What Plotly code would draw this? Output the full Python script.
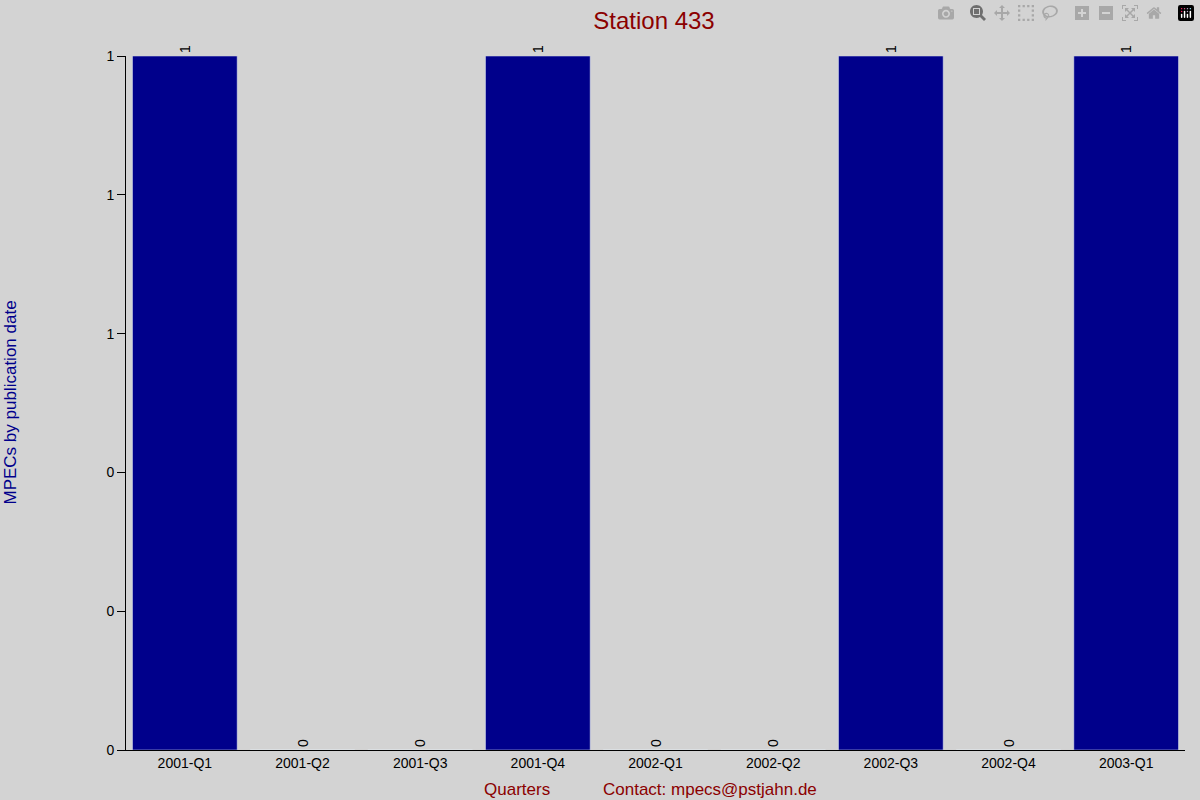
import plotly.graph_objects as go

quarters = ["2001-Q1","2001-Q2","2001-Q3","2001-Q4","2002-Q1","2002-Q2","2002-Q3","2002-Q4","2003-Q1"]
counts = [1,0,0,1,0,0,1,0,1]
ytick_vals = [0,0.2,0.4,0.6,0.8,1.0]

fig = go.Figure(go.Bar(
    x=quarters, y=counts, marker_color="#00008B", width=0.89,
    text=[str(c) for c in counts], textposition="outside", textangle=-90,
    textfont=dict(color="black", size=14), cliponaxis=False,
))
fig.update_layout(
    width=1200, height=800, paper_bgcolor="#D3D3D3", plot_bgcolor="#D3D3D3",
    font=dict(family="Liberation Sans, Arial", size=14, color="black"),
    margin=dict(l=126, r=15, t=56, b=50), showlegend=False,
    title=dict(text="Station 433", x=0.545, xanchor="center", y=0.985, yanchor="top",
               font=dict(size=24, color="#8B0000")),
)
fig.update_xaxes(showline=True, linecolor="black", ticks="", showgrid=False,
                 tickfont=dict(size=14))
fig.update_yaxes(range=[0,1], tickvals=ytick_vals, tickformat=".0f", showgrid=False,
                 zeroline=False, showline=True, linecolor="black", ticks="outside",
                 ticklen=8, tickcolor="black", tickfont=dict(size=14))
fig.add_annotation(text="MPECs by publication date", xref="paper", yref="paper",
                   x=-0.11, y=0.5, textangle=-90, showarrow=False,
                   font=dict(size=17, color="#00008B"), xanchor="center", yanchor="middle")
fig.add_annotation(text="Quarters", xref="paper", yref="paper", x=0.369, y=-0.04,
                   showarrow=False, font=dict(size=17, color="#8B0000"), yanchor="top")
fig.add_annotation(text="Contact: mpecs@pstjahn.de", xref="paper", yref="paper", x=0.551, y=-0.04,
                   showarrow=False, font=dict(size=17, color="#8B0000"), yanchor="top")
fig.write_html("out.html", post_script="document.body.style.margin='0';document.body.style.overflow='hidden';")
